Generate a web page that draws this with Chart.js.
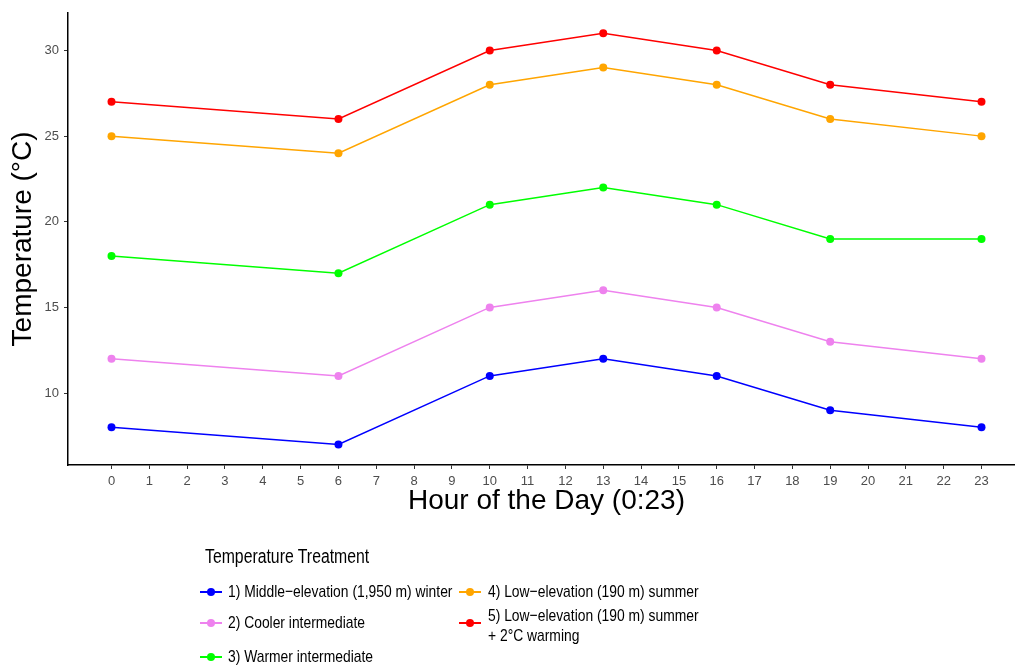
<!DOCTYPE html>
<html>
<head>
<meta charset="utf-8">
<script src="https://cdn.jsdelivr.net/npm/chart.js@4"></script>
<style>
body { margin: 0; background: #fff; overflow: hidden; font-family: "Liberation Sans", Arial, sans-serif; }
#wrap { position: relative; width: 1030px; height: 530px; }
#legend { position: absolute; left: 0; top: 0; width: 1015px; height: 669px; pointer-events: none; }
/* reference legend uses a condensed face, squeeze the regular one */
.ltitle { position: absolute; left: 205px; top: 545px; font-size: 20px; color: #000;
          transform: scaleX(0.79); transform-origin: left center; white-space: nowrap; }
.item { position: absolute; font-size: 17px; color: #000; line-height: 20px; white-space: nowrap;
        transform: scaleX(0.815); transform-origin: left center; }
.key { position: absolute; width: 22px; height: 2px; }
.dot { position: absolute; width: 8px; height: 8px; border-radius: 50%; left: 7px; top: -3px; }
</style>
</head>
<body>
<div id="wrap"><canvas id="chart1" width="1030" height="530"></canvas></div>
<div id="legend"></div>
<script>
// data
const hours = [0, 6, 10, 13, 16, 19, 23];
const seriesNames = [
    '1) Middle\u2212elevation (1,950 m) winter',
    '2) Cooler intermediate',
    '3) Warmer intermediate',
    '4) Low\u2212elevation (190 m) summer',
    '5) Low\u2212elevation (190 m) summer<br>+ 2\u00b0C warming'
];
const seriesColors = ['#0000ff', '#ee82ee', '#00ff00', '#ffa500', '#ff0000'];
const winter = [8, 7, 11, 12, 11, 9, 8];
const cooler = [12, 11, 15, 16, 15, 13, 12];
const warmer = [18, 17, 21, 22, 21, 19, 19];
const summer = [25, 24, 28, 29, 28, 26, 25];
const warming = [27, 26, 30, 31, 30, 28, 27];
const xTicks = [0,1,2,3,4,5,6,7,8,9,10,11,12,13,14,15,16,17,18,19,20,21,22,23];
const yTicks = [10, 15, 20, 25, 30];

const allSeries = [winter, cooler, warmer, summer, warming];

const datasets = allSeries.map(function(vals, i) {
    return {
        label: seriesNames[i],
        data: vals.map(function(v, k) { return { x: hours[k], y: v }; }),
        borderColor: seriesColors[i],
        backgroundColor: seriesColors[i],
        pointBackgroundColor: seriesColors[i],
        pointBorderWidth: 0,
        pointRadius: 4,
        borderWidth: 1.5,
        tension: 0
    };
});

const tickFont = { family: 'Liberation Sans', size: 13 };

new Chart('chart1', {
    type: 'line',
    data: { datasets: datasets },
    options: {
        responsive: false,
        animation: false,
        events: [],
        layout: { padding: { left: 0, right: 5, top: 10, bottom: 0 } },
        plugins: {
            legend: { display: false },
            tooltip: { enabled: false }
        },
        scales: {
            x: {
                type: 'linear',
                min: -1.15,
                max: 24.15,
                afterBuildTicks: function(s) { s.ticks = xTicks.map(function(v) { return { value: v }; }); },
                afterFit: function(s) { s.height = 65; },
                grid: { drawOnChartArea: false, drawTicks: true, tickLength: 4, color: '#333' },
                border: { display: true, color: '#000', width: 1.5 },
                ticks: { color: '#4d4d4d', font: tickFont, padding: 5, autoSkip: false, maxRotation: 0 },
                title: {
                    display: true,
                    text: 'Hour of the Day (0:23)',
                    color: '#000',
                    font: { family: 'Liberation Sans', size: 28 },
                    padding: { top: 0, bottom: 12 }
                }
            },
            y: {
                min: 5.8,
                max: 32.2,
                afterBuildTicks: function(s) { s.ticks = yTicks.map(function(v) { return { value: v }; }); },
                afterFit: function(s) { s.width = 68; },
                grid: { drawOnChartArea: false, drawTicks: true, tickLength: 4, color: '#333' },
                border: { display: true, color: '#000', width: 1.5 },
                ticks: { color: '#4d4d4d', font: tickFont, padding: 5 },
                title: {
                    display: true,
                    text: 'Temperature (\u00b0C)',
                    color: '#000',
                    font: { family: 'Liberation Sans', size: 28 },
                    padding: { top: 6, bottom: 0 }
                }
            }
        }
    }
});

// legend below the plot, ggplot style: 3 rows, filled by column
const legend = document.getElementById('legend');
const title = document.createElement('div');
title.className = 'ltitle';
title.textContent = 'Temperature Treatment';
legend.appendChild(title);

const keyPos = [
    { kx: 200, ky: 592, tx: 228 },
    { kx: 200, ky: 623, tx: 228 },
    { kx: 200, ky: 657, tx: 228 },
    { kx: 459, ky: 592, tx: 488 },
    { kx: 459, ky: 623, tx: 488 }
];
seriesNames.forEach(function(name, i) {
    const p = keyPos[i];
    const key = document.createElement('div');
    key.className = 'key';
    key.style.left = p.kx + 'px';
    key.style.top = (p.ky - 1) + 'px';
    key.style.background = seriesColors[i];
    const dot = document.createElement('div');
    dot.className = 'dot';
    dot.style.background = seriesColors[i];
    key.appendChild(dot);
    legend.appendChild(key);

    const txt = document.createElement('div');
    txt.className = 'item';
    txt.innerHTML = name;
    const lines = name.split('<br>').length;
    txt.style.left = p.tx + 'px';
    // two-line label sits a little lower than its key in the reference
    txt.style.top = (p.ky - lines * 10 + (lines > 1 ? 3 : 0)) + 'px';
    legend.appendChild(txt);
});
</script>
</body>
</html>
